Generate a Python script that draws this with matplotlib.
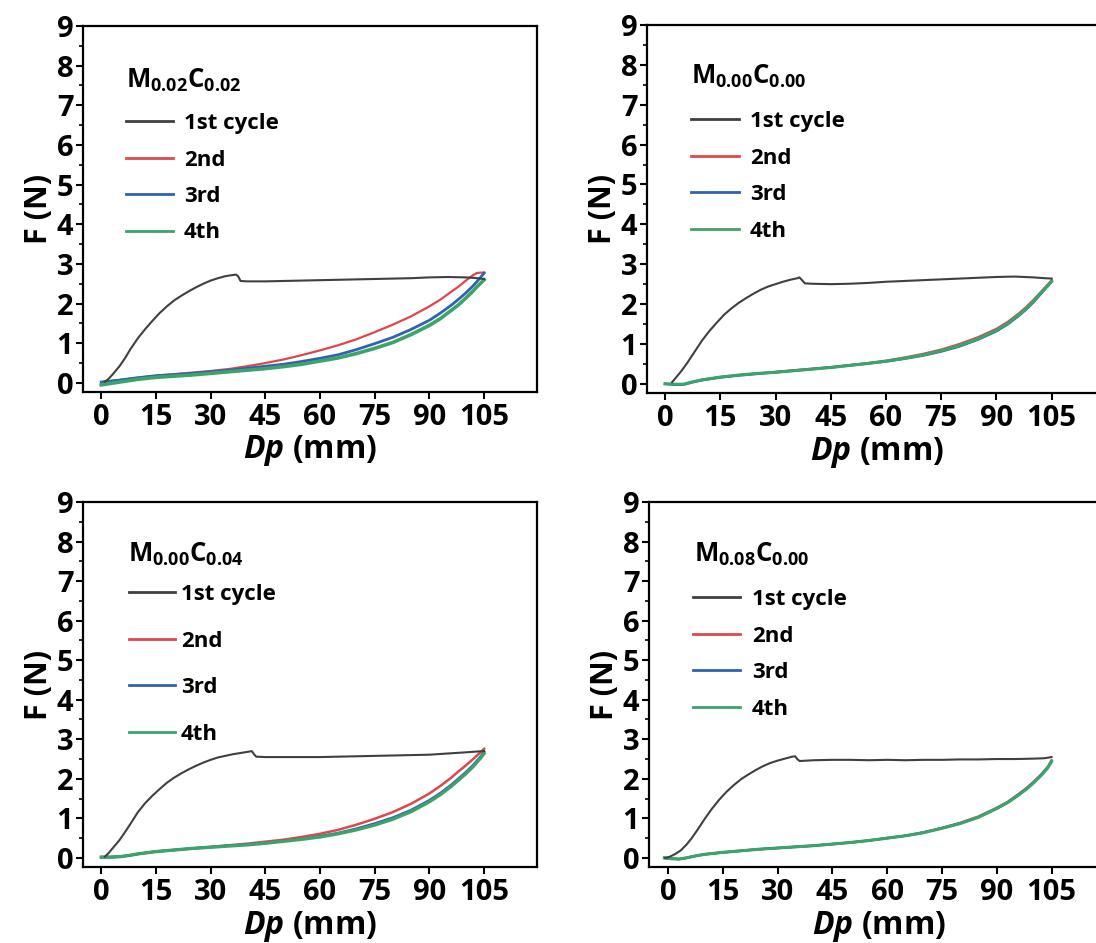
import matplotlib
matplotlib.use("Agg")
import matplotlib.pyplot as plt
from matplotlib.ticker import MultipleLocator

plt.rcParams['font.family'] = ['Open Sans', 'DejaVu Sans']
plt.rcParams['font.weight'] = 'bold'
plt.rcParams['mathtext.fontset'] = 'custom'
plt.rcParams['mathtext.rm'] = 'Open Sans:bold'
plt.rcParams['mathtext.bf'] = 'Open Sans:bold'
plt.rcParams['mathtext.it'] = 'Open Sans:italic:bold'
plt.rcParams['mathtext.bfit'] = 'Open Sans:italic:bold'

# ---------------- data ----------------
titles = [r"M$_{\mathbf{0.02}}$C$_{\mathbf{0.02}}$", r"M$_{\mathbf{0.00}}$C$_{\mathbf{0.00}}$",
          r"M$_{\mathbf{0.00}}$C$_{\mathbf{0.04}}$", r"M$_{\mathbf{0.08}}$C$_{\mathbf{0.00}}$"]
series_labels = ["1st cycle", "2nd", "3rd", "4th"]
x_ticks = [0, 15, 30, 45, 60, 75, 90, 105]
y_ticks = [0, 1, 2, 3, 4, 5, 6, 7, 8, 9]

# panel 1: M0.02C0.02
p1_x1 = [1, 2, 3, 4, 5, 6.5, 8, 10, 12, 14, 16, 18, 20, 22, 24, 26, 28, 30, 32, 34, 36, 37, 37.6, 38.2,
         40, 45, 50, 55, 60, 65, 70, 75, 80, 85, 90, 95, 100, 102, 104, 105]
p1_y1 = [0.03, 0.1, 0.2, 0.31, 0.42, 0.62, 0.85, 1.12, 1.35, 1.56, 1.76, 1.93, 2.08, 2.2, 2.31, 2.41, 2.5,
         2.58, 2.64, 2.69, 2.72, 2.73, 2.68, 2.57, 2.56, 2.56, 2.57, 2.58, 2.59, 2.6, 2.61, 2.62, 2.63, 2.64,
         2.66, 2.67, 2.66, 2.65, 2.63, 2.62]
p1_xc = [0, 5, 10, 15, 20, 25, 30, 35, 40, 45, 50, 55, 60, 65, 70, 75, 80, 85, 90, 93, 96, 98, 100, 102, 103, 104, 105]
p1_y2 = [0.02, 0.07, 0.13, 0.18, 0.22, 0.26, 0.3, 0.35, 0.42, 0.5, 0.59, 0.7, 0.82, 0.95, 1.1, 1.28, 1.47,
         1.68, 1.93, 2.1, 2.3, 2.43, 2.58, 2.72, 2.77, 2.78, 2.78]
p1_y3 = [0.02, 0.07, 0.13, 0.18, 0.21, 0.24, 0.28, 0.32, 0.37, 0.42, 0.47, 0.54, 0.62, 0.71, 0.84, 0.99,
         1.15, 1.35, 1.58, 1.76, 1.96, 2.11, 2.27, 2.45, 2.55, 2.66, 2.77]
p1_y4 = [-0.05, 0.02, 0.09, 0.14, 0.17, 0.2, 0.24, 0.28, 0.32, 0.36, 0.41, 0.47, 0.55, 0.63, 0.74, 0.87,
         1.02, 1.22, 1.45, 1.62, 1.83, 1.97, 2.14, 2.32, 2.42, 2.51, 2.6]

# panel 2: M0.00C0.00
p2_x1 = [1.9, 3, 4.5, 6, 8, 10, 12, 14, 16, 18, 20, 22, 24, 26, 28, 30, 32, 34, 36, 36.5, 37.2, 38,
         40, 45, 50, 55, 60, 65, 70, 75, 80, 85, 90, 95, 100, 103, 105]
p2_y1 = [0.04, 0.16, 0.33, 0.52, 0.8, 1.08, 1.32, 1.53, 1.73, 1.89, 2.03, 2.15, 2.26, 2.36, 2.44, 2.5,
         2.56, 2.61, 2.65, 2.67, 2.6, 2.52, 2.51, 2.5, 2.51, 2.53, 2.56, 2.58, 2.6, 2.62, 2.64, 2.66, 2.68,
         2.69, 2.67, 2.65, 2.64]
p2_xc = [0, 2.5, 5, 7.5, 10, 15, 20, 25, 30, 35, 40, 45, 50, 55, 60, 65, 70, 75, 80, 85, 90, 93, 96, 98, 100, 102, 104, 105]
p2_y2 = [0.0, -0.01, -0.01, 0.05, 0.1, 0.17, 0.22, 0.26, 0.3, 0.34, 0.38, 0.42, 0.47, 0.52, 0.58, 0.66,
         0.75, 0.86, 1.0, 1.17, 1.38, 1.55, 1.76, 1.92, 2.1, 2.3, 2.5, 2.6]
p2_y3 = [0.0, -0.02, -0.02, 0.04, 0.09, 0.16, 0.21, 0.25, 0.29, 0.33, 0.37, 0.41, 0.46, 0.51, 0.56, 0.63,
         0.71, 0.81, 0.94, 1.11, 1.32, 1.49, 1.7, 1.86, 2.04, 2.25, 2.46, 2.57]
p2_y4 = [0.0, -0.01, -0.01, 0.05, 0.1, 0.17, 0.22, 0.26, 0.29, 0.33, 0.37, 0.41, 0.46, 0.51, 0.57, 0.64,
         0.72, 0.83, 0.96, 1.13, 1.34, 1.51, 1.72, 1.88, 2.06, 2.27, 2.47, 2.57]

# panel 3: M0.00C0.04
p3_x1 = [1, 2, 3, 4, 5, 6.5, 8, 10, 12, 14, 16, 18, 20, 22, 24, 26, 28, 30, 32, 34, 36, 38, 40, 41.3,
         41.9, 42.5, 45, 50, 55, 60, 65, 70, 75, 80, 85, 90, 95, 100, 103, 105]
p3_y1 = [0.03, 0.12, 0.23, 0.34, 0.45, 0.65, 0.86, 1.15, 1.38, 1.57, 1.74, 1.9, 2.03, 2.14, 2.24, 2.33,
         2.41, 2.48, 2.54, 2.58, 2.62, 2.65, 2.68, 2.7, 2.62, 2.56, 2.55, 2.55, 2.55, 2.55, 2.56, 2.57,
         2.58, 2.59, 2.6, 2.61, 2.64, 2.67, 2.69, 2.7]
p3_xc = [0, 2.5, 5, 7.5, 10, 15, 20, 25, 30, 35, 40, 45, 50, 55, 60, 65, 70, 75, 80, 85, 90, 93, 96, 98, 100, 102, 104, 105]
p3_y2 = [0.02, 0.02, 0.03, 0.06, 0.1, 0.16, 0.2, 0.24, 0.28, 0.32, 0.36, 0.41, 0.46, 0.53, 0.61, 0.71,
         0.84, 0.99, 1.16, 1.37, 1.63, 1.82, 2.03, 2.19, 2.34, 2.5, 2.67, 2.76]
p3_y3 = [0.02, 0.02, 0.03, 0.06, 0.1, 0.16, 0.2, 0.24, 0.27, 0.31, 0.34, 0.38, 0.43, 0.48, 0.55, 0.63,
         0.74, 0.87, 1.02, 1.21, 1.46, 1.64, 1.85, 2.01, 2.17, 2.35, 2.56, 2.68]
p3_y4 = [0.02, 0.02, 0.03, 0.06, 0.1, 0.16, 0.2, 0.24, 0.27, 0.3, 0.33, 0.37, 0.42, 0.47, 0.53, 0.61,
         0.71, 0.83, 0.98, 1.17, 1.42, 1.6, 1.81, 1.97, 2.13, 2.31, 2.52, 2.64]

# panel 4: M0.08C0.00
p4_x1 = [-0.8, 0.5, 2, 3.5, 5, 6.5, 8, 10, 12, 14, 16, 18, 20, 22, 24, 26, 28, 30, 32, 34, 34.8, 35.4,
         36, 40, 45, 50, 55, 60, 65, 70, 75, 80, 85, 90, 95, 100, 103, 105]
p4_y1 = [0.0, 0.03, 0.1, 0.19, 0.33, 0.5, 0.7, 0.98, 1.24, 1.47, 1.67, 1.84, 1.99, 2.11, 2.22, 2.32,
         2.4, 2.46, 2.51, 2.56, 2.57, 2.5, 2.45, 2.47, 2.48, 2.48, 2.47, 2.48, 2.47, 2.48, 2.48, 2.49,
         2.49, 2.5, 2.5, 2.51, 2.52, 2.55]
p4_xc = [-1, 1, 3, 5, 7.5, 10, 15, 20, 25, 30, 35, 40, 45, 50, 55, 60, 65, 70, 75, 80, 85, 90, 93, 96, 98, 100, 102, 104, 105]
p4_y2 = [0.0, -0.02, -0.03, 0.0, 0.05, 0.09, 0.14, 0.18, 0.22, 0.25, 0.28, 0.31, 0.35, 0.39, 0.44, 0.5,
         0.56, 0.65, 0.76, 0.89, 1.05, 1.27, 1.42, 1.62, 1.76, 1.92, 2.1, 2.31, 2.47]
p4_y3 = [0.0, -0.02, -0.03, 0.0, 0.05, 0.09, 0.14, 0.18, 0.22, 0.25, 0.28, 0.31, 0.35, 0.39, 0.44, 0.5,
         0.56, 0.64, 0.75, 0.87, 1.03, 1.25, 1.4, 1.6, 1.74, 1.9, 2.08, 2.29, 2.45]
p4_y4 = [0.0, -0.02, -0.03, 0.0, 0.05, 0.09, 0.14, 0.18, 0.22, 0.25, 0.28, 0.31, 0.35, 0.39, 0.44, 0.5,
         0.56, 0.64, 0.75, 0.87, 1.03, 1.25, 1.4, 1.59, 1.73, 1.89, 2.07, 2.28, 2.44]

panels = [
    (p1_x1, p1_y1, p1_xc, p1_y2, p1_y3, p1_y4),
    (p2_x1, p2_y1, p2_xc, p2_y2, p2_y3, p2_y4),
    (p3_x1, p3_y1, p3_xc, p3_y2, p3_y3, p3_y4),
    (p4_x1, p4_y1, p4_xc, p4_y2, p4_y3, p4_y4),
]

# ---------------- style / layout ----------------
colors = ["#404040", "#e0474c", "#2f62b3", "#3aa46a"]
W, H = 1096, 943
# axes boxes in pixels: left, top, right, bottom
boxes = [(83, 26, 537, 392), (647, 25, 1108, 393), (83, 502, 537, 867), (649, 502, 1110, 867)]
xlims = [(-5, 119.5), (-4.9, 120.3), (-5, 119.5), (-5.2, 121)]
title_pos = [(126, 88), (691, 84), (128, 561), (694, 561)]
# legend: left of handle, y of first row (px), row spacing, handle length, text gap
leg_cfg = [(126, 121, 36.5, 47, 11), (691, 119, 36.7, 48, 11), (129, 592, 46.7, 46, 6), (693, 597, 36.7, 47, 12)]
lws = [[1.5, 1.6, 2.0, 2.6], [1.5, 1.6, 1.8, 2.2], [1.5, 1.8, 1.8, 2.4], [1.5, 1.6, 1.8, 2.2]]

fig = plt.figure(figsize=(W / 100, H / 100), dpi=100)

for i, (x1, y1, xc, y2, y3, y4) in enumerate(panels):
    l, t, r, b = boxes[i]
    ax = fig.add_axes([l / W, 1 - b / H, (r - l) / W, (b - t) / H])
    ax.plot(x1, y1, color=colors[0], lw=lws[i][0], zorder=5)
    ax.plot(xc, y2, color=colors[1], lw=lws[i][1], zorder=2)
    ax.plot(xc, y3, color=colors[2], lw=lws[i][2], zorder=3)
    ax.plot(xc, y4, color=colors[3], lw=lws[i][3], zorder=4)
    ax.set_xlim(*xlims[i])
    ax.set_ylim(-0.23, 9)
    ax.set_xticks(x_ticks)
    ax.set_yticks(y_ticks)
    ax.yaxis.set_minor_locator(MultipleLocator(0.5))
    ax.tick_params(which='major', direction='out', length=5, width=1.5, labelsize=21)
    ax.tick_params(axis='x', which='major', pad=3)
    ax.tick_params(axis='y', which='major', pad=2)
    ax.tick_params(which='minor', direction='out', length=3, width=1.2)
    for lab in ax.get_xticklabels() + ax.get_yticklabels():
        lab.set_fontweight('bold')
    for s in ax.spines.values():
        s.set_linewidth(1.6)
    ax.set_ylabel("F (N)", fontsize=22, fontweight='bold', labelpad=2)
    ax.set_xlabel(r"$\mathbfit{Dp}$ (mm)", fontsize=23, fontweight='bold', labelpad=1)

    # title label
    tx, ty = title_pos[i]
    fig.text(tx / W, 1 - ty / H, titles[i], fontsize=18.5, fontweight='bold', ha='left', va='baseline')

    # legend drawn manually in figure pixel coords
    lx, ly, dy, ll, gap = leg_cfg[i]
    for k, lab in enumerate(series_labels):
        yy = 1 - (ly + k * dy) / H
        fig.add_artist(plt.Line2D([lx / W, (lx + ll) / W], [yy, yy], color=colors[k], lw=2.0))
        fig.text((lx + ll + gap) / W, yy, lab, fontsize=16, fontweight='bold', ha='left', va='center_baseline')

fig.savefig("out.png", dpi=100)
